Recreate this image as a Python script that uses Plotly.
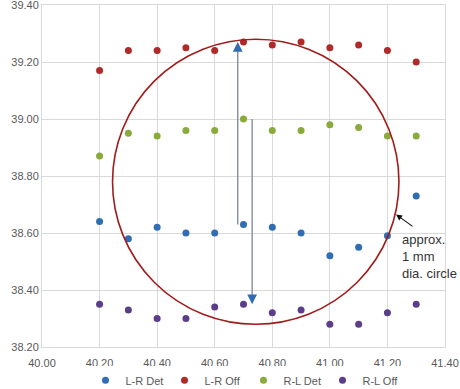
import plotly.graph_objects as go

x_vals = [40.2, 40.3, 40.4, 40.5, 40.6, 40.7, 40.8, 40.9, 41.0, 41.1, 41.2, 41.3]
lr_det = [38.64, 38.58, 38.62, 38.60, 38.60, 38.63, 38.62, 38.60, 38.52, 38.55, 38.59, 38.73]
lr_off = [39.17, 39.24, 39.24, 39.25, 39.24, 39.27, 39.26, 39.27, 39.25, 39.26, 39.24, 39.20]
rl_det = [38.87, 38.95, 38.94, 38.96, 38.96, 39.00, 38.96, 38.96, 38.98, 38.97, 38.94, 38.94]
rl_off = [38.35, 38.33, 38.30, 38.30, 38.34, 38.35, 38.32, 38.33, 38.28, 38.28, 38.32, 38.35]

series_names = ["L-R Det", "L-R Off", "R-L Det", "R-L Off"]
series_colors = ["#2f6eb5", "#b02a2a", "#8aab3c", "#5b3d8a"]

circle_x = [40.245, 41.24]
circle_y = [38.28, 39.28]

up_arrow = {"x": 40.68, "y0": 38.63, "y1": 39.27}
down_arrow = {"x": 40.73, "y0": 39.00, "y1": 38.35}

x_ticks = [40.0, 40.2, 40.4, 40.6, 40.8, 41.0, 41.2, 41.4]
y_ticks = [38.2, 38.4, 38.6, 38.8, 39.0, 39.2, 39.4]

fig = go.Figure()
for name, ys, col in zip(series_names, [lr_det, lr_off, rl_det, rl_off], series_colors):
    fig.add_trace(go.Scatter(x=x_vals, y=ys, mode="markers", name=name,
                             marker=dict(color=col, size=7, line=dict(width=0))))

shapes = [
    dict(type="circle", xref="x", yref="y", x0=circle_x[0], x1=circle_x[1],
         y0=circle_y[0], y1=circle_y[1], line=dict(color="#a01c1c", width=1.6), layer="above"),
    dict(type="line", xref="x", yref="y", x0=up_arrow["x"], x1=up_arrow["x"],
         y0=up_arrow["y0"], y1=up_arrow["y1"] - 0.02, line=dict(color="#7f8396", width=1.3)),
    dict(type="line", xref="x", yref="y", x0=down_arrow["x"], x1=down_arrow["x"],
         y0=down_arrow["y0"], y1=down_arrow["y1"] + 0.02, line=dict(color="#7f8396", width=1.3)),
]

annotations = [
    dict(x=up_arrow["x"], y=up_arrow["y1"], xref="x", yref="y", ax=0, ay=9,
         showarrow=True, arrowhead=2, arrowsize=1.3, arrowwidth=1.5, arrowcolor="#2e6db4", text=""),
    dict(x=down_arrow["x"], y=down_arrow["y1"], xref="x", yref="y", ax=0, ay=-9,
         showarrow=True, arrowhead=2, arrowsize=1.3, arrowwidth=1.5, arrowcolor="#2e6db4", text=""),
    dict(x=41.23, y=38.665, xref="x", yref="y", ax=18, ay=13,
         showarrow=True, arrowhead=2, arrowsize=1.1, arrowwidth=1.1, arrowcolor="#111111", text=""),
    dict(x=41.245, y=38.61, xref="x", yref="y", xanchor="left", yanchor="top",
         text="approx.<br>1 mm<br>dia. circle", showarrow=False, align="left",
         font=dict(family="Liberation Sans, Arial", size=13, color="#333333")),
]

fig.update_layout(
    width=460, height=389,
    margin=dict(l=42, r=15, t=5, b=42, autoexpand=False),
    paper_bgcolor="white", plot_bgcolor="white",
    shapes=shapes, annotations=annotations,
    showlegend=True,
    legend=dict(orientation="h", x=0.5, xanchor="center", y=-0.055, yanchor="top",
                font=dict(family="Liberation Sans, Arial", size=11, color="#595959"),
                itemwidth=30, entrywidth=34, entrywidthmode="pixels", tracegroupgap=0),
    font=dict(family="Liberation Sans, Arial", size=11, color="#595959"),
)
fig.update_xaxes(range=[40.0, 41.4], tickvals=x_ticks, ticktext=[f"{v:.2f}" for v in x_ticks],
                 showgrid=True, gridcolor="#d9d9d9", gridwidth=1, zeroline=False,
                 showline=True, linecolor="#d9d9d9", mirror=True, ticks="", ticklen=0,
                 automargin=False, ticklabelstandoff=6)
fig.update_yaxes(range=[38.2, 39.4], tickvals=y_ticks, ticktext=[f"{v:.2f}" for v in y_ticks],
                 showgrid=True, gridcolor="#d9d9d9", gridwidth=1, zeroline=False,
                 showline=True, linecolor="#d9d9d9", mirror=True, ticks="", ticklen=0,
                 automargin=False, ticklabeloverflow="allow")

fig.write_html("out.html")
